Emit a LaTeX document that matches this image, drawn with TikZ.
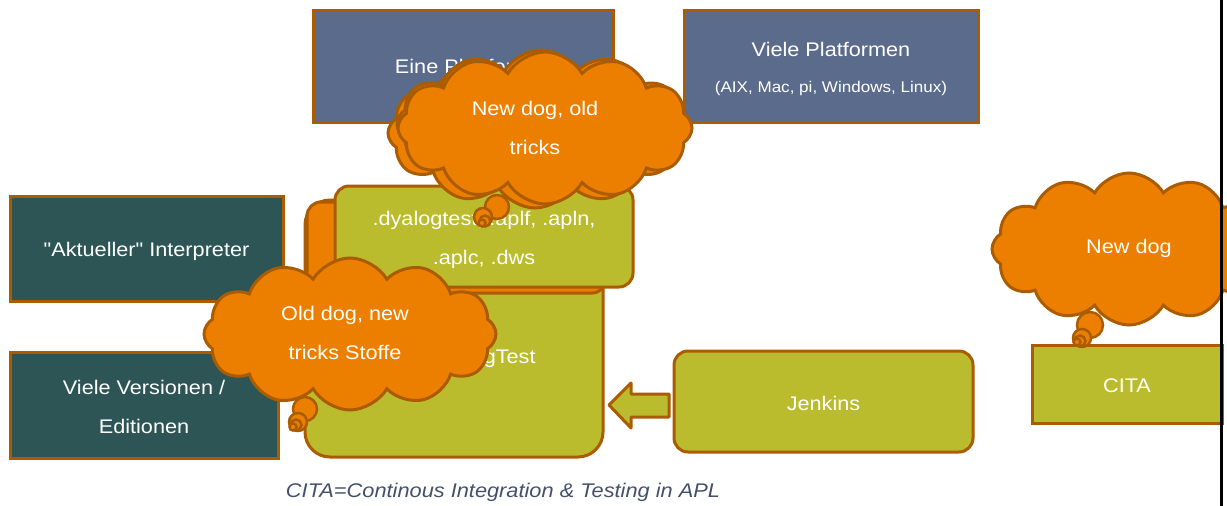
\documentclass[tikz,border=0pt]{standalone}
\usepackage{fontspec}
\setmainfont{Liberation Sans}[FakeStretch=1.1, Ligatures=TeXOff]
\usetikzlibrary{shapes.symbols}
\definecolor{edge}{RGB}{172,92,0}
\definecolor{slate}{RGB}{91,107,140}
\definecolor{tealdark}{RGB}{45,85,85}
\definecolor{olivefill}{RGB}{187,187,46}
\definecolor{orangefill}{RGB}{236,127,0}
\definecolor{captcol}{RGB}{68,80,106}
\begin{document}
\begin{tikzpicture}[x=1pt,y=-1pt,
  lbl/.style={text=white, align=center, inner sep=0pt, font=\fontsize{19.7}{39}\selectfont},
  box/.style={lbl, draw=edge, line width=3pt},
  slatebox/.style={box, fill=slate},
  tealbox/.style={box, fill=tealdark},
  olivebox/.style={box, fill=olivefill, rounded corners=14pt},
  bubble/.style={cloud, cloud puffs=12, cloud puff arc=120, cloud ignores aspect,
    draw=edge, fill=orangefill, line width=3pt, inner sep=0pt},
  puff/.style={draw=edge, fill=orangefill, line width=2.5pt}]
\useasboundingbox (0,0) rectangle (1227,506);
\clip (0,0) rectangle (1227,506);
% top boxes
\node[slatebox, minimum width=300pt, minimum height=112pt] (eine) at (463,66) {Eine Plattform};
\node[slatebox, minimum width=294pt, minimum height=112pt] (viele) at (831,66) {};
\node[lbl, font=\fontsize{19.7}{36}\selectfont] (vieletext) at (831,69)
  {Viele Platformen\\{\fontsize{15.5}{36}\selectfont (AIX, Mac, pi, Windows, Linux)}};
% left boxes
\node[tealbox, minimum width=273pt, minimum height=105pt] (akt) at (146.5,248.5) {};
\node[lbl] (akttext) at (146.5,251) {"Aktueller" Interpreter};
\node[tealbox, minimum width=268pt, minimum height=106pt] (vers) at (144,405) {};
\node[lbl] (verstext) at (144,406.5) {Viele Versionen /\\Editionen};
% central stack
\node[olivebox, rounded corners=25pt, minimum width=298pt, minimum height=257pt] (dtest) at (454,328.5) {};
\node[lbl] (dtlabel) at (482,358) {DyalogTest};
\node[draw=edge, fill=orangefill, line width=3pt, rounded corners=14pt, minimum width=299pt, minimum height=91pt] (backrect) at (456.5,247.5) {};
\node[olivebox, minimum width=298pt, minimum height=101pt] (files) at (484,236.5) {};
\node[lbl] (filestext) at (484,239.5) {.dyalogtest, .aplf, .apln,\\.aplc, .dws};
% Jenkins and arrow
\node[olivebox, minimum width=299pt, minimum height=101pt] (jenkins) at (823.5,401.5) {};
\node[lbl] (jenkinstext) at (823.5,403) {Jenkins};
\coordinate (tip) at (609,405);
\draw[draw=edge, fill=olivefill, line width=3pt, line join=round]
  (tip) -- (631,383) -- (631,394) -- (669,394) -- (669,417) -- (631,417) -- (631,428) -- cycle;
% CITA
\node[box, fill=olivefill, minimum width=190pt, minimum height=78pt] (cita) at (1127,384) {};
\node[lbl] (citatext) at (1127,385.5) {CITA};
% cloud 1: New dog, old tricks
\draw[puff] (497,207) circle (12);
\draw[puff] (483,217) circle (9);
\draw[puff] (485,221) circle (5.5);
\draw[puff] (482,223) circle (3.5);
\node[bubble, minimum width=294pt, minimum height=150pt] (c1b) at (535,133) {};
\node[bubble, minimum width=288pt, minimum height=148pt] (c1c) at (541,124) {};
\node[bubble, minimum width=294pt, minimum height=152pt] (c1) at (545,128) {};
\node[lbl] (c1t) at (535,128) {New dog, old\\tricks};
% cloud 2: Old dog, new tricks Stoffe
\draw[puff] (305,409) circle (12);
\draw[puff] (298,422) circle (9);
\draw[puff] (296,425) circle (5.5);
\draw[puff] (293,427) circle (3.5);
\node[bubble, minimum width=292pt, minimum height=152pt] (c2) at (350,334) {};
\node[lbl] (c2t) at (345,332.5) {Old dog, new\\tricks Stoffe};
% cloud 3: New dog
\draw[puff] (1090,325) circle (13);
\draw[puff] (1082,338) circle (9);
\draw[puff] (1080,341) circle (5.5);
\draw[puff] (1077,342) circle (3.5);
\node[bubble, minimum width=274pt, minimum height=152pt] (c3) at (1129,249) {};
\node[lbl] (c3t) at (1129,248.5) {New dog};
% right edge line
\draw[line width=3pt, black] (1221,0) -- (1221,506);
% caption
\node[font=\fontsize{19.8}{20}\selectfont\itshape, text=captcol, inner sep=0pt] (caption) at (503,492) {CITA=Continous Integration \& Testing in APL};
\end{tikzpicture}
\end{document}
